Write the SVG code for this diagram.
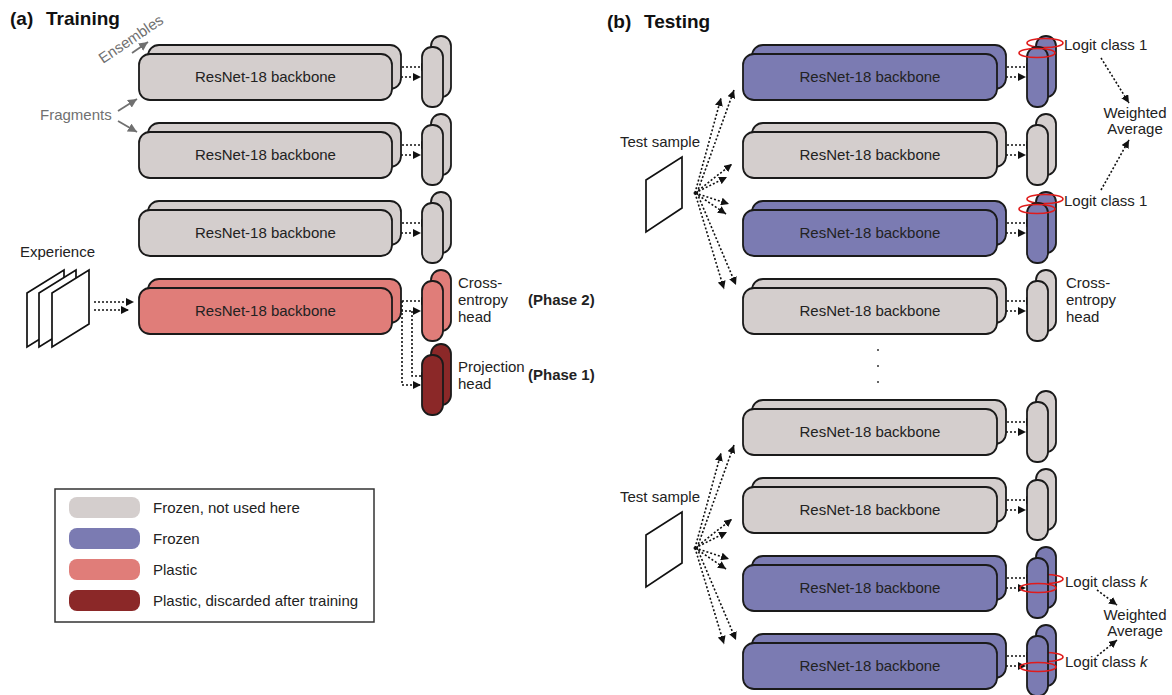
<svg xmlns="http://www.w3.org/2000/svg" width="1172" height="695" viewBox="0 0 1172 695">
<style>
text{font-family:"Liberation Sans",Arial,sans-serif;fill:#222;font-size:15px}
.t{font-weight:bold;font-size:19px;fill:#111}
.b{font-weight:bold}
.c{text-anchor:middle}
.g{fill:#707070}
.bx{stroke:#1a1a1a;stroke-width:1.8}
.grey{fill:#d4cecd}
.blue{fill:#7b7bb2}
.pink{fill:#e07d79}
.dark{fill:#8b2828}
.d{fill:none;stroke:#111;stroke-width:1.6;stroke-dasharray:2 2;marker-end:url(#ah)}
.ga{fill:none;stroke:#707070;stroke-width:1.8;marker-end:url(#gh)}
.el{fill:none;stroke:#e01b1b;stroke-width:1.6}
.pp{fill:#fff;stroke:#111;stroke-width:1.7}
</style>
<defs>
<marker id="ah" viewBox="0 0 8 8" refX="8" refY="4" markerWidth="8" markerHeight="8" markerUnits="userSpaceOnUse" orient="auto"><path d="M0,0L8,4L0,8z" fill="#111"/></marker>
<marker id="gh" viewBox="0 0 8 8" refX="8" refY="4" markerWidth="9" markerHeight="9" markerUnits="userSpaceOnUse" orient="auto"><path d="M0,0L8,4L0,8z" fill="#707070"/></marker>
</defs>

<text x="10" y="25" class="t">(a)</text><text x="46" y="25" class="t">Training</text>
<text x="607" y="28" class="t">(b)</text><text x="644" y="28" class="t">Testing</text>

<g id="connectors">
<path class="ga" d="M118,111L137,99"/>
<path class="ga" d="M118,121L137,132"/>
<path class="ga" d="M132,53L148,42"/>
<path class="d" d="M94,302H134"/>
<path class="d" d="M94,310H129"/>
<path class="d" d="M402,67H429"/><path class="d" d="M393,77H421"/>
<path class="d" d="M402,145H429"/><path class="d" d="M393,155H421"/>
<path class="d" d="M402,223H429"/><path class="d" d="M393,233H421"/>
<path class="d" d="M402,301H429"/><path class="d" d="M393,311H421"/>
<path class="d" d="M402,301V385H421"/>
<path class="d" d="M412,311V376H429"/>
<path class="d" d="M1007,67H1034"/><path class="d" d="M998,77H1026"/>
<path class="d" d="M1007,145H1034"/><path class="d" d="M998,155H1026"/>
<path class="d" d="M1007,223H1034"/><path class="d" d="M998,233H1026"/>
<path class="d" d="M1007,301H1034"/><path class="d" d="M998,311H1026"/>
<path class="d" d="M1007,422H1034"/><path class="d" d="M998,432H1026"/>
<path class="d" d="M1007,500H1034"/><path class="d" d="M998,510H1026"/>
<path class="d" d="M1007,578H1034"/><path class="d" d="M998,588H1026"/>
<path class="d" d="M1007,656H1034"/><path class="d" d="M998,666H1026"/>
<path class="d" d="M695,193L721,98"/><path class="d" d="M697,193L734,90"/>
<path class="d" d="M695,193L732,164"/><path class="d" d="M695,193L727,177"/>
<path class="d" d="M695,193L729,204"/><path class="d" d="M695,193L726,214"/>
<path class="d" d="M695,193L724,289"/><path class="d" d="M697,193L736,285"/>
<path class="d" d="M695,548L721,453"/><path class="d" d="M697,548L734,445"/>
<path class="d" d="M695,548L732,519"/><path class="d" d="M695,548L727,532"/>
<path class="d" d="M695,548L729,559"/><path class="d" d="M695,548L726,569"/>
<path class="d" d="M695,548L724,644"/><path class="d" d="M697,548L736,640"/>
<path class="d" d="M1101,58L1129,103"/>
<path class="d" d="M1101,190L1129,140"/>
<path class="d" d="M1097,590L1117,605"/>
<path class="d" d="M1097,656L1117,640"/>
</g>

<text x="40" y="120" class="g">Fragments</text>
<text x="0" y="0" class="g" transform="translate(103,64) rotate(-34)">Ensembles</text>

<g id="experience">
<text x="20" y="257">Experience</text>
<polygon class="pp" points="27,293 64,270 64,324 27,347"/>
<polygon class="pp" points="39,293 76,270 76,324 39,347"/>
<polygon class="pp" points="52,293 89,270 89,324 52,347"/>
</g>

<g id="a_bb1"><rect class="bx grey" x="148" y="45" width="253" height="44" rx="11"/><rect class="bx grey" x="139" y="54" width="253" height="46" rx="11"/><text x="265.5" y="82" class="c">ResNet-18 backbone</text></g>
<g id="a_bb2"><rect class="bx grey" x="148" y="123" width="253" height="44" rx="11"/><rect class="bx grey" x="139" y="132" width="253" height="46" rx="11"/><text x="265.5" y="160" class="c">ResNet-18 backbone</text></g>
<g id="a_bb3"><rect class="bx grey" x="148" y="201" width="253" height="44" rx="11"/><rect class="bx grey" x="139" y="210" width="253" height="46" rx="11"/><text x="265.5" y="238" class="c">ResNet-18 backbone</text></g>
<g id="a_bb4"><rect class="bx pink" x="148" y="279" width="253" height="44" rx="11"/><rect class="bx pink" x="139" y="288" width="253" height="46" rx="11"/><text x="265.5" y="316" class="c">ResNet-18 backbone</text></g>

<g id="a_h1"><rect class="bx grey" x="431" y="36" width="20" height="61" rx="10"/><rect class="bx grey" x="422" y="47" width="21" height="60" rx="10"/></g>
<g id="a_h2"><rect class="bx grey" x="431" y="114" width="20" height="61" rx="10"/><rect class="bx grey" x="422" y="125" width="21" height="60" rx="10"/></g>
<g id="a_h3"><rect class="bx grey" x="431" y="192" width="20" height="61" rx="10"/><rect class="bx grey" x="422" y="203" width="21" height="60" rx="10"/></g>
<g id="a_h4"><rect class="bx pink" x="431" y="270" width="20" height="61" rx="10"/><rect class="bx pink" x="422" y="281" width="21" height="60" rx="10"/>
<text x="458" y="288">Cross-</text><text x="458" y="305">entropy</text><text x="458" y="322">head</text>
<text x="528" y="305" class="b">(Phase 2)</text></g>
<g id="a_h5"><rect class="bx dark" x="431" y="344" width="20" height="61" rx="10"/><rect class="bx dark" x="422" y="355" width="21" height="60" rx="10"/>
<text x="458" y="372">Projection</text><text x="458" y="389">head</text>
<text x="528" y="380" class="b">(Phase 1)</text></g>

<g id="legend">
<rect x="55" y="489" width="319" height="133" fill="#fff" stroke="#333" stroke-width="1.5"/>
<rect class="grey" x="69" y="497" width="71" height="21" rx="8"/>
<rect class="blue" x="69" y="528" width="71" height="21" rx="8"/>
<rect class="pink" x="69" y="559" width="71" height="21" rx="8"/>
<rect class="dark" x="69" y="590" width="71" height="21" rx="8"/>
<text x="153" y="513">Frozen, not used here</text>
<text x="153" y="544">Frozen</text>
<text x="153" y="575">Plastic</text>
<text x="153" y="606">Plastic, discarded after training</text>
</g>

<g id="test1"><text x="620" y="147">Test sample</text><polygon class="pp" points="646,180 682,157 682,208 646,232"/><circle cx="695" cy="193" r="1.5" fill="#111"/></g>
<g id="test2"><text x="620" y="502">Test sample</text><polygon class="pp" points="646,535 682,512 682,563 646,587"/><circle cx="695" cy="548" r="1.5" fill="#111"/></g>

<g id="b_bb1"><rect class="bx blue" x="752" y="45" width="254" height="44" rx="11"/><rect class="bx blue" x="743" y="54" width="254" height="46" rx="11"/><text x="870" y="82" class="c">ResNet-18 backbone</text></g>
<g id="b_bb2"><rect class="bx grey" x="752" y="123" width="254" height="44" rx="11"/><rect class="bx grey" x="743" y="132" width="254" height="46" rx="11"/><text x="870" y="160" class="c">ResNet-18 backbone</text></g>
<g id="b_bb3"><rect class="bx blue" x="752" y="201" width="254" height="44" rx="11"/><rect class="bx blue" x="743" y="210" width="254" height="46" rx="11"/><text x="870" y="238" class="c">ResNet-18 backbone</text></g>
<g id="b_bb4"><rect class="bx grey" x="752" y="279" width="254" height="44" rx="11"/><rect class="bx grey" x="743" y="288" width="254" height="46" rx="11"/><text x="870" y="316" class="c">ResNet-18 backbone</text></g>
<g id="b_bb5"><rect class="bx grey" x="752" y="400" width="254" height="44" rx="11"/><rect class="bx grey" x="743" y="409" width="254" height="46" rx="11"/><text x="870" y="437" class="c">ResNet-18 backbone</text></g>
<g id="b_bb6"><rect class="bx grey" x="752" y="478" width="254" height="44" rx="11"/><rect class="bx grey" x="743" y="487" width="254" height="46" rx="11"/><text x="870" y="515" class="c">ResNet-18 backbone</text></g>
<g id="b_bb7"><rect class="bx blue" x="752" y="556" width="254" height="44" rx="11"/><rect class="bx blue" x="743" y="565" width="254" height="46" rx="11"/><text x="870" y="593" class="c">ResNet-18 backbone</text></g>
<g id="b_bb8"><rect class="bx blue" x="752" y="634" width="254" height="44" rx="11"/><rect class="bx blue" x="743" y="643" width="254" height="46" rx="11"/><text x="870" y="671" class="c">ResNet-18 backbone</text></g>

<g id="dots"><circle cx="878" cy="350" r="1" fill="#333"/><circle cx="878" cy="366" r="1" fill="#333"/><circle cx="878" cy="382" r="1" fill="#333"/></g>

<g id="b_h1"><rect class="bx blue" x="1036" y="36" width="20" height="61" rx="10"/><ellipse class="el" cx="1045" cy="43" rx="18" ry="4.5"/><rect class="bx blue" x="1027" y="47" width="21" height="60" rx="10"/><ellipse class="el" cx="1037" cy="53" rx="18" ry="4.5"/><text x="1064" y="50">Logit class 1</text></g>
<g id="b_h2"><rect class="bx grey" x="1036" y="114" width="20" height="61" rx="10"/><rect class="bx grey" x="1027" y="125" width="21" height="60" rx="10"/></g>
<g id="b_h3"><rect class="bx blue" x="1036" y="192" width="20" height="61" rx="10"/><ellipse class="el" cx="1045" cy="199" rx="18" ry="4.5"/><rect class="bx blue" x="1027" y="203" width="21" height="60" rx="10"/><ellipse class="el" cx="1037" cy="209" rx="18" ry="4.5"/><text x="1064" y="206">Logit class 1</text></g>
<g id="b_h4"><rect class="bx grey" x="1036" y="270" width="20" height="61" rx="10"/><rect class="bx grey" x="1027" y="281" width="21" height="60" rx="10"/>
<text x="1066" y="288">Cross-</text><text x="1066" y="305">entropy</text><text x="1066" y="322">head</text></g>
<g id="b_h5"><rect class="bx grey" x="1036" y="391" width="20" height="61" rx="10"/><rect class="bx grey" x="1027" y="402" width="21" height="60" rx="10"/></g>
<g id="b_h6"><rect class="bx grey" x="1036" y="469" width="20" height="61" rx="10"/><rect class="bx grey" x="1027" y="480" width="21" height="60" rx="10"/></g>
<g id="b_h7"><rect class="bx blue" x="1036" y="547" width="20" height="61" rx="10"/><ellipse class="el" cx="1045" cy="579" rx="18" ry="4.5"/><rect class="bx blue" x="1027" y="558" width="21" height="60" rx="10"/><ellipse class="el" cx="1038" cy="588" rx="18" ry="4.5"/><text x="1065" y="587">Logit class <tspan font-style="italic">k</tspan></text></g>
<g id="b_h8"><rect class="bx blue" x="1036" y="625" width="20" height="61" rx="10"/><ellipse class="el" cx="1045" cy="657" rx="18" ry="4.5"/><rect class="bx blue" x="1027" y="636" width="21" height="60" rx="10"/><ellipse class="el" cx="1038" cy="667" rx="18" ry="4.5"/><text x="1065" y="667">Logit class <tspan font-style="italic">k</tspan></text></g>

<g id="wavg1"><text x="1135" y="118" class="c">Weighted</text><text x="1135" y="134" class="c">Average</text></g>
<g id="wavg2"><text x="1135" y="620" class="c">Weighted</text><text x="1135" y="636" class="c">Average</text></g>
</svg>
